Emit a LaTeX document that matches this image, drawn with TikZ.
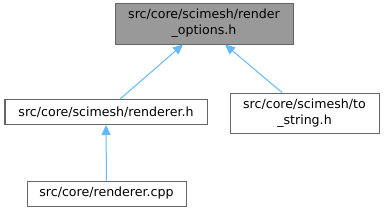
\documentclass[tikz,border=0pt]{standalone}
\usepackage{fontspec}
\setmainfont{DejaVu Sans}
\usetikzlibrary{arrows.meta, positioning}
\definecolor{edgeblue}{HTML}{63B8FF}
\definecolor{boxline}{HTML}{666666}
\definecolor{boxgrey}{HTML}{999999}

\begin{document}
\begin{tikzpicture}[
  x=1pt, y=-1pt,
  box/.style={rectangle, draw=boxline, line width=1pt, fill=white, inner sep=0pt,
              align=center, font=\fontsize{12.6}{16}\selectfont},
  greyBox/.style={box, fill=boxgrey},
  arr/.style={{Triangle[length=10pt, width=9pt]}-, draw=edgeblue, line width=1pt}
]
\useasboundingbox (0,0) rectangle (384,212);
\node[greyBox, minimum width=178pt, minimum height=41pt] (opts) at (204,23.5) {src/core/scimesh/render\\\_options.h};
\node[box, minimum width=202pt, minimum height=25pt] (rendh) at (106,112) {src/core/scimesh/renderer.h};
\node[box, minimum width=149pt, minimum height=40pt] (tostr) at (304.5,113) {src/core/scimesh/to\\\_string.h};
\node[box, minimum width=159pt, minimum height=25pt] (rendcpp) at (106.5,193.5) {src/core/renderer.cpp};
\draw[arr] ([xshift=-21pt]opts.south) -- ([xshift=14pt]rendh.north);
\draw[arr] ([xshift=21pt]opts.south) -- ([xshift=-22.5pt]tostr.north);
\draw[arr] (rendh.south) -- (rendcpp.north);
\end{tikzpicture}
\end{document}
